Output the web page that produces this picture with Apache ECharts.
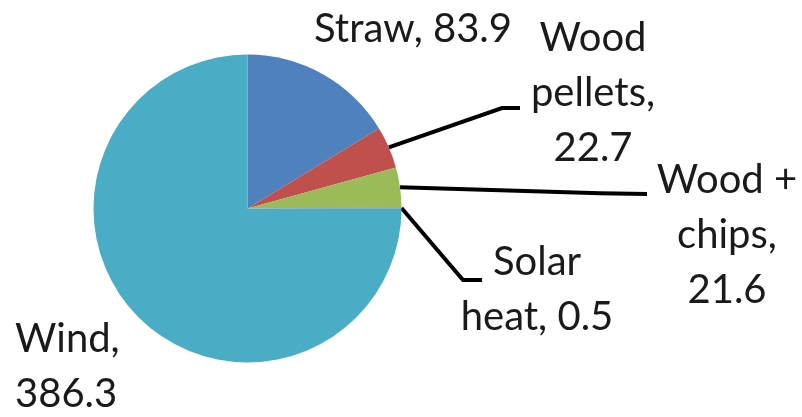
<!DOCTYPE html>
<html>
<head>
<meta charset="utf-8">
<script src="https://cdn.jsdelivr.net/npm/echarts@6/dist/echarts.min.js"></script>
<style>
  html, body { margin: 0; padding: 0; background: #ffffff; }
  #chart { width: 802px; height: 417px; }
</style>
</head>
<body>
<div id="chart"></div>
<script>
// Heat and power sources (values as labelled on each slice)
const categories = ['Straw', 'Wood pellets', 'Wood chips', 'Solar heat', 'Wind'];
const values = [83.9, 22.7, 21.6, 0.5, 386.3];
// How each category name is written inside its label, and what joins it to the value
const labelNames = ['Straw', 'Wood\npellets', 'Wood +\nchips', 'Solar\nheat', 'Wind'];
const labelJoins = [', ', ',\n', ',\n', ', ', ',\n'];
const colors = ['#4F81BD', '#C0504D', '#9BBB59', '#8064A2', '#4BACC6'];

// Pie geometry
const CX = 247.5, CY = 208.5, R = 154;

// Where each label block sits and how its leader line bends
const labelPlacement = [
  { x: 413, y: 29,  align: 'center', line: null },
  { x: 593, y: 93,  align: 'center', line: [[502, 108], [520, 108]] },
  { x: 727, y: 235, align: 'center', line: [[600, 193.3], [647, 194]] },
  { x: 537, y: 290, align: 'center', line: [[463, 280], [482, 280]] },
  { x: 15,  y: 367, align: 'left',   line: null }
];

const total = values.reduce((a, b) => a + b, 0);

// Point on the rim at the middle of slice i (clockwise from 12 o'clock)
function rimPoint(i) {
  let before = 0;
  for (let k = 0; k < i; k++) before += values[k];
  const mid = (before + values[i] / 2) / total * Math.PI * 2;
  return [CX + R * Math.sin(mid), CY - R * Math.cos(mid)];
}

const leaderStyle = { color: '#000000', width: 4 };

const data = categories.map((name, i) => ({
  name: name,
  value: values[i],
  itemStyle: { color: colors[i] },
  labelLine: { show: !!labelPlacement[i].line, lineStyle: leaderStyle }
}));

const chart = echarts.init(document.getElementById('chart'), null, { renderer: 'canvas' });
chart.setOption({
  backgroundColor: '#ffffff',
  animation: false,
  series: [{
    type: 'pie',
    center: [CX, CY],
    radius: R,
    startAngle: 90,
    clockwise: true,
    avoidLabelOverlap: false,
    minShowLabelAngle: 0,
    data: data,
    label: {
      show: true,
      position: 'outside',
      fontFamily: 'Lato',
      fontSize: 40,
      lineHeight: 55,
      color: '#1a1a1a',
      formatter: p => labelNames[p.dataIndex] + labelJoins[p.dataIndex] + values[p.dataIndex]
    },
    labelLine: {
      show: true,
      smooth: false,
      lineStyle: leaderStyle
    },
    labelLayout: function (params) {
      const i = params.dataIndex;
      const pl = labelPlacement[i];
      const out = { x: pl.x, y: pl.y, align: pl.align, verticalAlign: 'middle' };
      if (pl.line) {
        out.labelLinePoints = [rimPoint(i), pl.line[0], pl.line[1]];
      }
      return out;
    },
    emphasis: { disabled: true }
  }]
});
</script>
</body>
</html>
